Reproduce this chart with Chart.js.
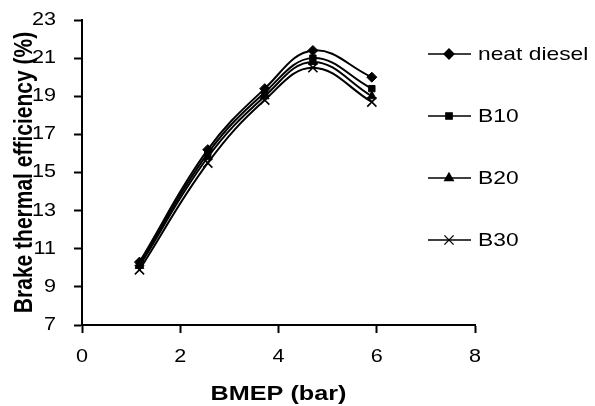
<!DOCTYPE html>
<html>
<head>
<meta charset="utf-8">
<script src="https://cdn.jsdelivr.net/npm/chart.js@4/dist/chart.umd.min.js"></script>
<style>
  html, body { margin: 0; padding: 0; background: #fff; }
  #wrap { width: 595px; height: 406px; position: relative; }
</style>
</head>
<body>
<div id="wrap"><canvas id="grafico"></canvas></div>
<script>
// dados
const bmep = [1.17, 2.56, 3.72, 4.7, 5.9];
const neatDiesel = [10.3, 16.2, 19.4, 21.4, 20.0];
const b10 = [10.2, 16.0, 19.2, 21.0, 19.4];
const b20 = [10.1, 15.8, 19.0, 20.8, 19.0];
const b30 = [9.9, 15.5, 18.8, 20.5, 18.7];
const nomes = ['neat diesel', 'B10', 'B20', 'B30'];
const estilos = ['rectRot', 'rect', 'triangle', 'crossRot'];
const raios = [5, 4.5, 5, 6.5];
const yTicks = [7, 9, 11, 13, 15, 17, 19, 21, 23];
const xTicks = [0, 2, 4, 6, 8];
const tituloX = 'BMEP (bar)';
const tituloY = 'Brake thermal efficiency (%)';

const FONTE = "Arial, 'Liberation Sans', sans-serif";
const ESTICA = 1.2; // o original está esticado na horizontal

function serie(nome, valores, i) {
    return {
        label: nome,
        data: bmep.map((x, k) => ({ x: x, y: valores[k] })),
        borderColor: '#000',
        backgroundColor: '#000',
        borderWidth: 2,
        pointStyle: estilos[i],
        pointRadius: raios[i],
        pointBorderWidth: i === 3 ? 1.6 : 1,
        tension: 0.4,
        fill: false
    };
}

// escreve texto esticado na horizontal
function texto(ctx, str, x, y, align, font) {
    ctx.save();
    ctx.font = font;
    ctx.textBaseline = 'middle';
    ctx.textAlign = align;
    ctx.translate(x, y);
    ctx.scale(ESTICA, 1);
    ctx.fillText(str, 0, 0);
    ctx.restore();
}

// rótulos dos eixos, títulos e legenda desenhados à mão
const textosPlugin = {
    id: 'textos',
    afterDraw(chart) {
        const ctx = chart.ctx;
        const sx = chart.scales.x, sy = chart.scales.y;
        ctx.save();
        ctx.fillStyle = '#000';

        sy.ticks.forEach(t => texto(ctx, String(t.value), 56, sy.getPixelForValue(t.value), 'right', '18px ' + FONTE));
        sx.ticks.forEach(t => texto(ctx, String(t.value), sx.getPixelForValue(t.value), 357, 'center', '18px ' + FONTE));

        texto(ctx, tituloX, (sx.left + sx.right) / 2, 394, 'center', 'bold 21px ' + FONTE);

        ctx.save();
        ctx.translate(25, (sy.top + sy.bottom) / 2);
        ctx.rotate(-Math.PI / 2);
        ctx.scale(1, ESTICA);
        ctx.font = 'bold 21px ' + FONTE;
        ctx.textAlign = 'center';
        ctx.textBaseline = 'middle';
        ctx.fillText(tituloY, 0, 0);
        ctx.restore();

        // legenda (linha + marcador, como no Excel)
        const ys = [54, 116, 178, 240];
        nomes.forEach((nome, i) => {
            const y = ys[i];
            ctx.strokeStyle = '#000';
            ctx.lineWidth = 1.3;
            ctx.beginPath();
            ctx.moveTo(428, y);
            ctx.lineTo(471, y);
            ctx.stroke();
            Chart.helpers.drawPoint(ctx, {
                pointStyle: estilos[i],
                radius: raios[i],
                rotation: 0,
                borderWidth: i === 3 ? 1.6 : 1
            }, 449, y);
            texto(ctx, nome, 478, y + 1, 'left', '19px ' + FONTE);
        });
        ctx.restore();
    }
};

const eixoComum = {
    type: 'linear',
    border: { color: '#000', width: 2 },
    grid: { drawOnChartArea: false, drawTicks: true, tickLength: 8, color: '#000', tickWidth: 2 },
    ticks: { display: false }
};

new Chart(document.getElementById('grafico'), {
    type: 'line',
    data: {
        datasets: [
            serie(nomes[0], neatDiesel, 0),
            serie(nomes[1], b10, 1),
            serie(nomes[2], b20, 2),
            serie(nomes[3], b30, 3)
        ]
    },
    options: {
        responsive: true,
        maintainAspectRatio: false,
        animation: false,
        layout: { padding: { top: 20, right: 120, left: 0, bottom: 0 } },
        plugins: {
            legend: { display: false },
            tooltip: { enabled: false }
        },
        scales: {
            x: {
                ...eixoComum,
                min: 0, max: 8,
                afterBuildTicks: s => { s.ticks = xTicks.map(v => ({ value: v })); },
                afterFit: s => { s.height = 81; }
            },
            y: {
                ...eixoComum,
                min: 7, max: 23,
                afterBuildTicks: s => { s.ticks = yTicks.map(v => ({ value: v })); },
                afterFit: s => { s.width = 82; }
            }
        }
    },
    plugins: [textosPlugin]
});
</script>
</body>
</html>
